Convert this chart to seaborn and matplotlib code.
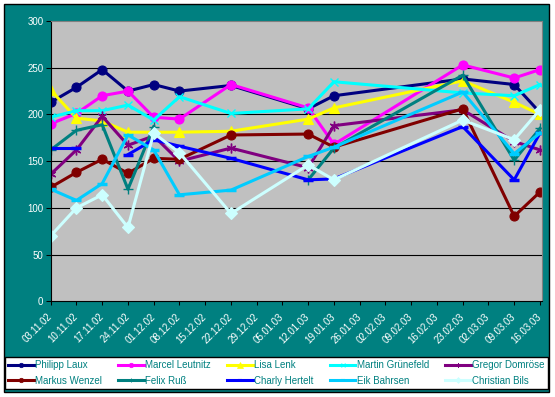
import numpy as np
import pandas as pd
import seaborn as sns
import matplotlib.pyplot as plt
from matplotlib.patches import Rectangle
from matplotlib.lines import Line2D
import matplotlib.transforms as mtransforms

# axis dates (weekly category axis)
dates = ["03.11.02", "10.11.02", "17.11.02", "24.11.02", "01.12.02", "08.12.02",
         "15.12.02", "22.12.02", "29.12.02", "05.01.03", "12.01.03", "19.01.03",
         "26.01.03", "02.02.03", "09.02.03", "16.02.03", "23.02.03", "02.03.03",
         "09.03.03", "16.03.03"]

# dates that actually have measurements (index into dates)
measured = [0, 1, 2, 3, 4, 5, 7, 10, 11, 16, 18, 19]

nan = np.nan
philipp = [213, 229, 248, 225, 232, 225, 231, 206, 220, 238, 232, 202]
marcel = [190, 201, 220, 225, 197, 195, 232, 207, 168, 253, 239, 248]
lisa = [226, 196, 193, 181, 181, 181, 182, 195, 207, 236, 213, 200]
martin = [197, 204, 204, 210, 194, 219, 201, 206, 235, 223, 220, 232]
gregor = [136, 162, 198, 167, 177, 150, 164, 143, 188, 205, 171, 162]
markus = [122, 138, 152, 137, 153, 152, 178, 179, 165, 206, 91, 117]
felix = [162, 183, 189, 120, 187, nan, nan, 130, 164, 242, 151, 185]
charly = [164, 164, nan, 157, 173, 166, 153, 130, 131, 187, 130, 180]
eik = [120, 108, 126, 178, 162, 114, 119, 155, 165, 224, 158, 180]
christian = [70, 100, 114, 79, 180, 159, 94, 146, 130, 194, 173, 205]

names = ["Philipp Laux", "Marcel Leutnitz", "Lisa Lenk", "Martin Grünefeld", "Gregor Domröse",
         "Markus Wenzel", "Felix Ruß", "Charly Hertelt", "Eik Bahrsen", "Christian Bils"]
values = [philipp, marcel, lisa, martin, gregor, markus, felix, charly, eik, christian]

# excel-ish colours and markers
colors = ["#000080", "#FF00FF", "#FFFF00", "#00FFFF", "#800080",
          "#800000", "#008080", "#0000FF", "#00CCFF", "#CCFFFF"]
markers = ["o", "o", "^", "x", (6, 2, 0), "o", "+", "_", "_", "D"]
msizes = [6.5, 6.5, 7.5, 6, 7, 6.5, 7, 7, 7, 6]
mews = [0.8, 0.8, 0.8, 1.0, 1.0, 0.8, 1.0, 2.5, 2.5, 0.8]

TEAL = "#008080"
W, H = 555, 397

plt.rcParams["font.family"] = ["Liberation Sans", "DejaVu Sans"]

fig = plt.figure(figsize=(W / 100, H / 100), dpi=100)
fig.patch.set_facecolor("white")
# teal chart area with black frame, behind everything
fig.patches.append(Rectangle((4 / W, 5 / H), 545 / W, 388 / H, transform=fig.transFigure,
                             facecolor=TEAL, edgecolor="black", lw=1.0, zorder=-10))

ax = fig.add_axes([50.7 / W, (H - 301.3) / H, (541.5 - 50.7) / W, (301.3 - 21) / H])
ax.set_facecolor("#C0C0C0")

for name, vals, c, m, ms, mew in zip(names, values, colors, markers, msizes, mews):
    df = pd.DataFrame({"x": measured, "y": vals})
    # blank cells break the line, missing dates are just skipped
    df["seg"] = df["y"].isna().cumsum()
    df = df.dropna()
    for _, seg in df.groupby("seg"):
        sns.lineplot(data=seg, x="x", y="y", ax=ax, color=c, lw=2.2, marker=m, markersize=ms,
                     markeredgecolor=c, markerfacecolor=c, markeredgewidth=mew,
                     estimator=None, legend=False)

ax.set_xlim(0, 19.06)
ax.set_ylim(0, 300)
ax.set_xlabel("")
ax.set_ylabel("")

ax.set_yticks(range(0, 301, 50))
ax.yaxis.grid(True, color="black", lw=0.8)
ax.set_axisbelow(True)
gl = ax.yaxis.get_gridlines()
gl[0].set_visible(False)
gl[-1].set_visible(False)

ax.set_xticks(range(len(dates)))
ax.set_xticklabels(dates, rotation=45, ha="right", va="center", rotation_mode="anchor")
offset = mtransforms.ScaledTranslation(-2 / 100, 0, fig.dpi_scale_trans)
for lab in ax.get_xticklabels():
    lab.set_transform(lab.get_transform() + offset)

ax.tick_params(axis="x", length=3, width=0.75, colors="black", labelcolor="white",
               labelsize=7, pad=7)
ax.tick_params(axis="y", length=3.75, width=0.75, colors="black", labelcolor="white",
               labelsize=7, pad=1.5)

for s in ["left", "bottom"]:
    ax.spines[s].set_color("black")
    ax.spines[s].set_linewidth(0.8)
for s in ["top", "right"]:
    ax.spines[s].set_color("#808080")
    ax.spines[s].set_linewidth(0.8)

# legend, row-wise like the original -> reorder for column filling
handles = [Line2D([], [], color=c, lw=2.2, marker=m, markersize=ms * 0.5,
                  markeredgecolor=c, markerfacecolor=c, markeredgewidth=mew * 0.6)
           for c, m, ms, mew in zip(colors, markers, msizes, mews)]
order = [0, 5, 1, 6, 2, 7, 3, 8, 4, 9]
leg = fig.legend([handles[i] for i in order], [names[i] for i in order],
                 loc="lower left", bbox_to_anchor=(5 / W, 8 / H, 543 / W, 34 / H),
                 mode="expand", ncol=5, fancybox=False, edgecolor="black",
                 facecolor="white", framealpha=1, fontsize=7, handlelength=2.6,
                 handletextpad=0.15, borderpad=0.35, labelspacing=0.55, borderaxespad=0,
                 labelcolor=TEAL)
leg.get_frame().set_linewidth(1.0)

fig.savefig("out.png", dpi=100)
